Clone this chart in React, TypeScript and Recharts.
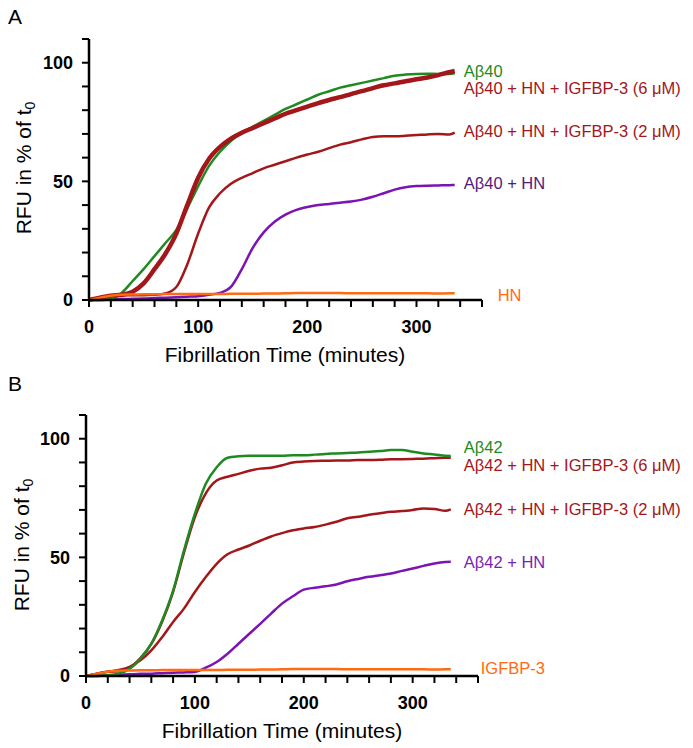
import { LineChart, Line, XAxis, YAxis } from "recharts";

// fibrillation time points (minutes)
const minutes = [
  0, 10, 20, 30, 40, 50, 60, 70, 80, 90, 100, 110, 120, 130, 140, 150, 160, 170,
  180, 190, 200, 210, 220, 230, 240, 250, 260, 270, 280, 290, 300, 310, 320, 330, 335,
];
const xTicks = [0, 20, 40, 60, 80, 100, 120, 140, 160, 180, 200, 220, 240, 260, 280, 300, 320, 340, 360];
const yTicks = [0, 10, 20, 30, 40, 50, 60, 70, 80, 90, 100, 110];

// panel A – Aβ40
const ab40 = [
  0, 0, 0.3, 3, 8, 13, 18.5, 24, 29.5, 38.5, 48, 56.5, 62.5, 67, 70.5, 73, 75.5, 78,
  80.5, 82.5, 84.5, 86.5, 88, 89.5, 90.5, 91.5, 92.5, 93.5, 94.5, 95, 95.3, 95.4, 95.3, 95.3, 95.6,
];
const ab40HnIgf6 = [
  0, 1, 1.8, 2.2, 3.5, 7, 13, 19.5, 28, 40, 51.5, 59.5, 64.5, 68, 70.5, 72.5, 74.5, 76.5,
  78.5, 80, 81.5, 83, 84.3, 85.5, 86.8, 88, 89.3, 90.5, 91.3, 92.2, 93, 93.8, 94.8, 96, 96.5,
];
const ab40HnIgf2 = [
  0, 1, 1.8, 2, 2, 2, 2.2, 2.8, 5.5, 15, 28, 39, 45, 49, 51.5, 53.5, 55.5, 57,
  58.5, 60, 61.3, 62.5, 64, 65.5, 66.5, 67.7, 68.7, 69, 69, 69.2, 69.5, 69.8, 70, 69.7, 70.5,
];
const ab40Hn = [
  0, 0, 0.2, 0.4, 0.5, 0.6, 0.8, 1, 1.2, 1.4, 1.6, 2.2, 3, 5.5, 13, 22, 28.5, 33,
  36, 38, 39.2, 40, 40.5, 41, 41.5, 42.3, 43.5, 45, 46.5, 47.5, 48, 48.2, 48.3, 48.4, 48.5,
];
const hnOnly = [
  0, 1, 1.8, 2.2, 2.3, 2.4, 2.4, 2.5, 2.5, 2.5, 2.5, 2.5, 2.5, 2.6, 2.6, 2.6, 2.7, 2.7,
  2.8, 3, 3, 3, 2.9, 2.9, 2.8, 2.8, 2.8, 2.8, 2.8, 2.8, 2.8, 2.8, 2.7, 2.8, 2.8,
];

// panel B – Aβ42
const ab42 = [
  0, 0, 0.3, 1, 3, 7.3, 13.6, 23.5, 36, 53, 68.4, 81, 88, 92, 92.6, 92.8, 92.8, 92.8,
  92.8, 93, 93, 93.3, 93.6, 93.8, 94, 94.2, 94.5, 94.8, 95.2, 95.2, 94.5, 93.8, 93.4, 92.8, 92.7,
];
const ab42HnIgf6 = [
  0, 1, 1.8, 2, 3.5, 7.5, 13.5, 23, 35.5, 52, 67, 77, 82.4, 84, 85.2, 86.5, 87.4, 87.8,
  88.8, 90, 90.4, 90.6, 90.7, 90.8, 90.8, 91, 91, 91.1, 91.3, 91.4, 91.5, 91.6, 91.8, 92, 92,
];
const ab42HnIgf2 = [
  0, 1, 1.8, 2.5, 3.8, 6.6, 10.8, 16.4, 22.8, 28.4, 35.4, 41.7, 47.3, 51.3, 53.3, 55, 57, 58.8,
  60.2, 61.4, 62.2, 62.8, 63.8, 65, 66.5, 67.1, 68, 68.6, 69.2, 69.5, 70, 70.6, 70.4, 69.6, 70.2,
];
const ab42Hn = [
  0, 0, 0.3, 0.5, 0.7, 0.9, 1, 1.2, 1.4, 1.5, 1.7, 3.5, 5.9, 9.4, 13.6, 17.8, 22, 26.3,
  30.5, 33.6, 36.4, 37.2, 37.8, 38.6, 39.9, 40.9, 41.8, 42.5, 43.2, 44.3, 45.3, 46.4, 47.4, 48, 48.1,
];
const igfbp3Only = [
  0, 1, 1.8, 2.2, 2.3, 2.4, 2.4, 2.5, 2.5, 2.5, 2.5, 2.5, 2.5, 2.6, 2.6, 2.6, 2.7, 2.7,
  2.8, 3, 3, 3, 2.9, 2.9, 2.8, 2.8, 2.8, 2.8, 2.8, 2.8, 2.8, 2.8, 2.7, 2.8, 2.8,
];

const panelA = minutes.map((t, i) => ({
  t,
  ab: ab40[i],
  igf6: ab40HnIgf6[i],
  igf2: ab40HnIgf2[i],
  hn: ab40Hn[i],
  ctrl: hnOnly[i],
}));

const panelB = minutes.map((t, i) => ({
  t,
  ab: ab42[i],
  igf6: ab42HnIgf6[i],
  igf2: ab42HnIgf2[i],
  hn: ab42Hn[i],
  ctrl: igfbp3Only[i],
}));

const FONT = "Arial, 'Liberation Sans', Helvetica, sans-serif";
const GREEN = "#1f8a22";
const RED = "#a3161a";
const PURPLE = "#7c14b4";
const ORANGE = "#ff6a12";

const seriesA = [
  { key: "hn", text: "Aβ40 + HN", color: PURPLE, textColor: "#55197c", w: 2.5, dx: 9, dy: -2 },
  { key: "igf2", text: "Aβ40 + HN + IGFBP-3 (2 μM)", color: RED, textColor: RED, w: 2.5, dx: 9, dy: -2 },
  { key: "ab", text: "Aβ40", color: GREEN, textColor: GREEN, w: 2.5, dx: 9, dy: -2 },
  { key: "igf6", text: "Aβ40 + HN + IGFBP-3 (6 μM)", color: RED, textColor: RED, w: 4.5, dx: 9, dy: 17 },
  { key: "ctrl", text: "HN", color: ORANGE, textColor: ORANGE, w: 2.5, dx: 43, dy: 2 },
];

const seriesB = [
  { key: "hn", text: "Aβ42 + HN", color: PURPLE, textColor: "#7a1fb6", w: 2.5, dx: 13, dy: 0 },
  { key: "igf2", text: "Aβ42 + HN + IGFBP-3 (2 μM)", color: RED, textColor: RED, w: 2.5, dx: 13, dy: 0 },
  { key: "igf6", text: "Aβ42 + HN + IGFBP-3 (6 μM)", color: RED, textColor: RED, w: 2.5, dx: 13, dy: 7 },
  { key: "ab", text: "Aβ42", color: GREEN, textColor: GREEN, w: 2.5, dx: 13, dy: -9 },
  { key: "ctrl", text: "IGFBP-3", color: ORANGE, textColor: ORANGE, w: 2.5, dx: 30, dy: -1 },
];

const lastIndex = minutes.length - 1;

function endLabel(text: string, color: string, dx: number, dy: number) {
  return (props: any) => {
    if (props.index !== lastIndex) return null;
    return (
      <text
        x={props.x + dx}
        y={props.y + dy}
        fill={color}
        fontSize={16.5}
        fontFamily={FONT}
        dominantBaseline="central"
        textAnchor="start"
      >
        {text}
      </text>
    );
  };
}

type Margin = { top: number; right: number; bottom: number; left: number };

function Panel({ data, series, margin }: { data: any[]; series: typeof seriesA; margin: Margin }) {
  return (
    <LineChart width={693} height={374} data={data} margin={margin}>
      <XAxis
        dataKey="t"
        type="number"
        domain={[0, 360]}
        ticks={xTicks}
        interval={0}
        tickFormatter={(v: number) => (v % 100 === 0 ? String(v) : "")}
        tickSize={7}
        tickMargin={13}
        height={30}
        axisLine={{ stroke: "#000", strokeWidth: 2.5 }}
        tickLine={{ stroke: "#000", strokeWidth: 2 }}
        tick={{ fill: "#000", fontSize: 18, fontWeight: 700, fontFamily: FONT }}
      />
      <YAxis
        type="number"
        domain={[0, 110]}
        ticks={yTicks}
        interval={0}
        tickFormatter={(v: number) => (v % 50 === 0 ? String(v) : "")}
        tickSize={7}
        tickMargin={9}
        width={60}
        axisLine={{ stroke: "#000", strokeWidth: 2.5 }}
        tickLine={{ stroke: "#000", strokeWidth: 2 }}
        tick={{ fill: "#000", fontSize: 18, fontWeight: 700, fontFamily: FONT }}
      />
      {series.map((s) => (
        <Line
          key={s.key}
          type="monotone"
          dataKey={s.key}
          stroke={s.color}
          strokeWidth={s.w}
          dot={false}
          activeDot={false}
          isAnimationActive={false}
          label={endLabel(s.text, s.textColor, s.dx, s.dy)}
        />
      ))}
    </LineChart>
  );
}

const textBase: React.CSSProperties = {
  position: "absolute",
  fontFamily: FONT,
  color: "#000",
  whiteSpace: "nowrap",
  lineHeight: "22px",
};

function YTitle({ cx, cy }: { cx: number; cy: number }) {
  return (
    <div
      style={{
        ...textBase,
        fontSize: 21,
        width: 200,
        height: 22,
        left: cx - 100,
        top: cy - 11,
        textAlign: "center",
        transform: "rotate(-90deg)",
      }}
    >
      RFU in % of t<sub style={{ fontSize: 14, verticalAlign: "-4px" }}>0</sub>
    </div>
  );
}

function XTitle({ cx, top }: { cx: number; top: number }) {
  return (
    <div style={{ ...textBase, fontSize: 21, width: 300, left: cx - 150, top, textAlign: "center" }}>
      Fibrillation Time (minutes)
    </div>
  );
}

export default function App() {
  return (
    <div style={{ position: "absolute", left: 0, top: 0, width: 693, height: 748, background: "#fff" }}>
      <div style={{ position: "absolute", left: 0, top: 0 }}>
        <Panel data={panelA} series={seriesA} margin={{ top: 39, right: 211, bottom: 44, left: 29 }} />
      </div>
      <div style={{ position: "absolute", left: 0, top: 374 }}>
        <Panel data={panelB} series={seriesB} margin={{ top: 41, right: 215, bottom: 42, left: 26 }} />
      </div>
      <div style={{ ...textBase, fontSize: 21, left: 8, top: 6 }}>A</div>
      <div style={{ ...textBase, fontSize: 21, left: 8, top: 373 }}>B</div>
      <YTitle cx={24} cy={168} />
      <YTitle cx={22} cy={545} />
      <XTitle cx={285} top={344} />
      <XTitle cx={282} top={720} />
    </div>
  );
}
